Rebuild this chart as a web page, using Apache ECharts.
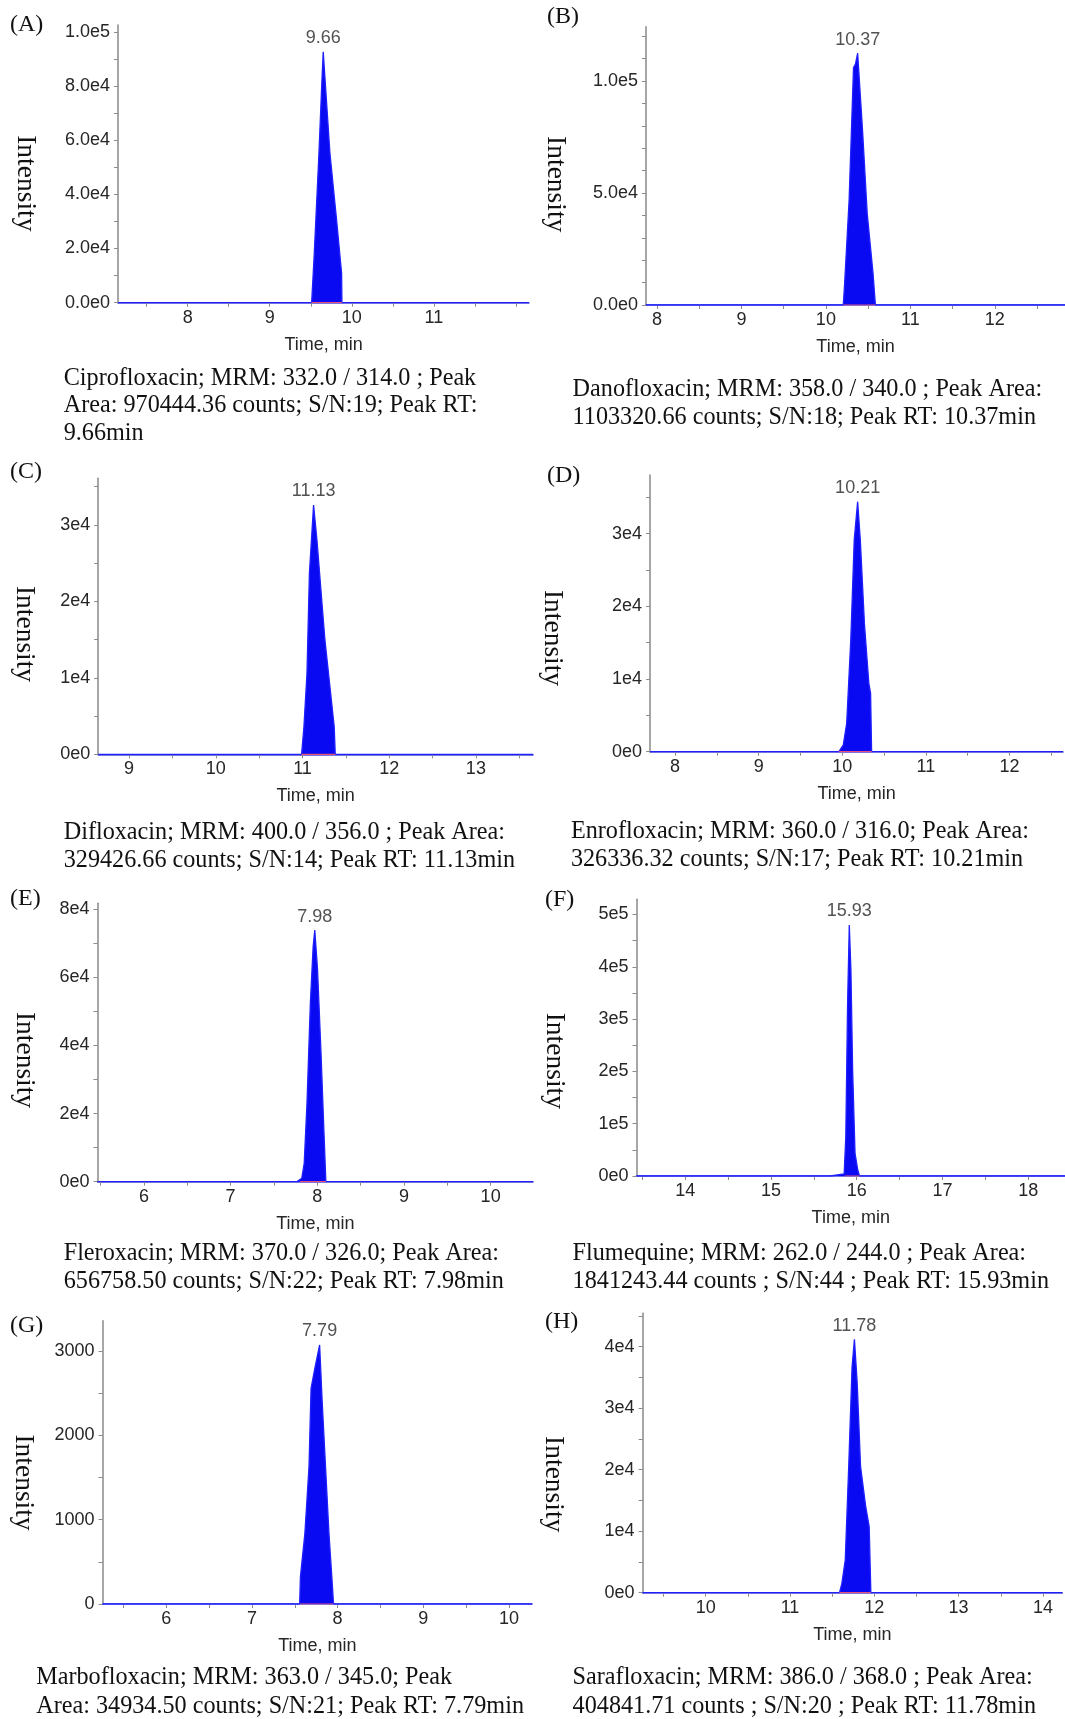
<!DOCTYPE html>
<html><head><meta charset="utf-8">
<script src="https://cdn.jsdelivr.net/npm/echarts@6/dist/echarts.min.js"></script>
<style>html,body{margin:0;padding:0;background:#fff}#c{width:1065px;height:1719px}</style>
</head><body><div id="c"></div>
<script>
// ================= DATA =================
const panelLetters = ['(A)', '(B)', '(C)', '(D)', '(E)', '(F)', '(G)', '(H)'];
const peakRT = ['9.66', '10.37', '11.13', '10.21', '7.98', '15.93', '7.79', '11.78'];

// chromatogram traces: time (min) and intensity (counts)
const timeA = [7.152, 9.511, 9.543, 9.600, 9.633, 9.652, 9.734, 9.815, 9.876, 9.880, 12.16];
const intA  = [0, 0, 18230, 55130, 79700, 92620, 55130, 30520, 10850, 0, 0];
const timeB = [7.871, 10.206, 10.222, 10.275, 10.327, 10.350, 10.376, 10.436, 10.489, 10.558, 10.586, 12.83];
const intB  = [0, 0, 9670, 46900, 106000, 107500, 112400, 76600, 40900, 14100, 0, 0];
const timeC = [8.644, 10.99, 11.017, 11.052, 11.080, 11.128, 11.167, 11.259, 11.366, 11.378, 13.66];
const intC  = [0, 0, 3620, 10590, 23660, 32590, 28000, 14950, 3620, 0, 0];
const timeD = [7.702, 9.96, 10.012, 10.053, 10.102, 10.143, 10.184, 10.216, 10.265, 10.318, 10.339, 10.351, 12.64];
const intD  = [0, 0, 917, 3900, 15360, 29100, 34390, 29100, 17650, 9400, 8020, 0, 0];
const timeE = [5.464, 7.762, 7.821, 7.849, 7.881, 7.920, 7.952, 7.971, 8.003, 8.043, 8.079, 8.099, 10.49];
const intE  = [0, 0, 980, 5380, 23000, 52400, 69000, 73900, 62200, 37700, 13200, 0, 0];
const timeF = [13.43, 15.693, 15.853, 15.872, 15.893, 15.913, 15.932, 15.952, 15.980, 16.012, 16.032, 18.43];
const intF  = [0, 0, 3800, 75200, 330000, 480000, 394000, 202700, 43300, 11470, 0, 0];
const timeG = [5.257, 7.557, 7.566, 7.618, 7.666, 7.690, 7.710, 7.738, 7.790, 7.819, 7.859, 7.899, 7.940, 7.952, 10.27];
const intG  = [0, 0, 324, 837, 1627, 2555, 2567, 2812, 3069, 2417, 1627, 837, 205, 0, 0];
const timeH = [9.251, 11.587, 11.615, 11.655, 11.696, 11.736, 11.764, 11.797, 11.837, 11.898, 11.939, 11.959, 14.23];
const intH  = [0, 0, 1518, 5312, 20490, 36750, 41190, 34040, 20490, 13980, 10730, 0, 0];

// integration baseline (peak start / end, min)
const peakBase = [[9.511, 9.880], [10.206, 10.586], [10.99, 11.378], [9.96, 10.351],
                  [7.80, 8.099], [15.86, 16.032], [7.557, 7.952], [11.587, 11.959]];

// axis extents
const xMin = [7.152, 7.871, 8.644, 7.702, 5.464, 13.43, 5.257, 9.251];
const xMax = [12.16, 12.83, 13.66, 12.64, 10.49, 18.43, 10.27, 14.23];
const yMax = [102500, 124240, 36080, 38060, 81760, 529000, 3357, 45430];

// tick labels
const xTickLabels = [[8, 9, 10, 11], [8, 9, 10, 11, 12], [9, 10, 11, 12, 13], [8, 9, 10, 11, 12],
                     [6, 7, 8, 9, 10], [14, 15, 16, 17, 18], [6, 7, 8, 9, 10], [10, 11, 12, 13, 14]];
const yTickVals = [
  [0, 20000, 40000, 60000, 80000, 100000],
  [0, 50000, 100000],
  [0, 10000, 20000, 30000],
  [0, 10000, 20000, 30000],
  [0, 20000, 40000, 60000, 80000],
  [0, 100000, 200000, 300000, 400000, 500000],
  [0, 1000, 2000, 3000],
  [0, 10000, 20000, 30000, 40000]
];
const yTickLabels = [
  ['0.0e0', '2.0e4', '4.0e4', '6.0e4', '8.0e4', '1.0e5'],
  ['0.0e0', '5.0e4', '1.0e5'],
  ['0e0', '1e4', '2e4', '3e4'],
  ['0e0', '1e4', '2e4', '3e4'],
  ['0e0', '2e4', '4e4', '6e4', '8e4'],
  ['0e0', '1e5', '2e5', '3e5', '4e5', '5e5'],
  ['0', '1000', '2000', '3000'],
  ['0e0', '1e4', '2e4', '3e4', '4e4']
];
const yMinorStep = [10000, 10000, 5000, 5000, 10000, 50000, 500, 5000];
const xMinorStep = 0.5;

const captions = [
  ['Ciprofloxacin; MRM: 332.0 / 314.0 ; Peak', 'Area: 970444.36 counts; S/N:19; Peak RT:', '9.66min'],
  ['Danofloxacin; MRM: 358.0 / 340.0 ; Peak Area:', '1103320.66 counts; S/N:18; Peak RT: 10.37min'],
  ['Difloxacin; MRM: 400.0 / 356.0 ; Peak Area:', '329426.66 counts; S/N:14; Peak RT: 11.13min'],
  ['Enrofloxacin; MRM: 360.0 / 316.0; Peak Area:', '326336.32 counts; S/N:17; Peak RT: 10.21min'],
  ['Fleroxacin; MRM: 370.0 / 326.0; Peak Area:', '656758.50 counts; S/N:22; Peak RT: 7.98min'],
  ['Flumequine; MRM: 262.0 / 244.0 ; Peak Area:', '1841243.44 counts ; S/N:44 ; Peak RT: 15.93min'],
  ['Marbofloxacin; MRM: 363.0 / 345.0; Peak', 'Area: 34934.50 counts; S/N:21; Peak RT: 7.79min'],
  ['Sarafloxacin; MRM: 386.0 / 368.0 ; Peak Area:', '404841.71 counts ; S/N:20 ; Peak RT: 11.78min']
];

// ================= LAYOUT (positions / sizes) =================
const layout = [
  {g: [118.1, 25.0, 410.9, 277.7],  letter: [10, 24.7],   inten: [25, 183.3],    cap: [63.7, [378.5, 406, 433.5]]},
  {g: [646.0, 26.7, 419.0, 278.3],  letter: [547, 17.2],  inten: [555.5, 184.2], cap: [572.6, [390, 417.5]]},
  {g: [98.2, 478.3, 434.9, 276.0],  letter: [10, 472.2],  inten: [24, 634],      cap: [63.7, [832.5, 861]]},
  {g: [650.1, 475.0, 412.9, 276.7], letter: [547, 475.5], inten: [552, 638],     cap: [570.9, [831.5, 860]]},
  {g: [97.5, 903.3, 435.6, 278.4],  letter: [10, 898.8],  inten: [24, 1060],     cap: [63.7, [1253.5, 1282]]},
  {g: [636.5, 899.3, 428.5, 276.7], letter: [545, 899.7], inten: [554.6, 1060.8],cap: [572.6, [1253.5, 1282]]},
  {g: [102.6, 1320.7, 429.5, 283.3],letter: [10, 1325.5], inten: [23, 1482.5],   cap: [36.2, [1678, 1706.5]]},
  {g: [642.6, 1313.3, 419.7, 279.4],letter: [545, 1321.3],inten: [553.7, 1484.2],cap: [572.6, [1678, 1706.5]]}
];

const times = [timeA, timeB, timeC, timeD, timeE, timeF, timeG, timeH];
const ints  = [intA, intB, intC, intD, intE, intF, intG, intH];

const SANS = 'Liberation Sans';
const SERIF = 'Liberation Serif';
const tickTextColor = '#262626';

function stepsIn(lo, hi, step) {
  const out = [];
  const k0 = Math.ceil(lo / step - 1e-9), k1 = Math.floor(hi / step + 1e-9);
  for (let k = k0; k <= k1; k++) out.push(+(k * step).toFixed(6));
  return out;
}

const option = { animation: false, backgroundColor: '#fff', grid: [], xAxis: [], yAxis: [], series: [], graphic: [] };

for (let i = 0; i < 8; i++) {
  const L = layout[i];
  option.grid.push({ left: L.g[0], top: L.g[1], width: L.g[2], height: L.g[3], containLabel: false, outerBoundsMode: 'none' });

  option.xAxis.push({
    type: 'value', gridIndex: i, min: xMin[i], max: xMax[i],
    name: 'Time, min', nameLocation: 'middle', nameGap: 33, nameMoveOverlap: false,
    nameTextStyle: { fontFamily: SANS, fontSize: 18, color: tickTextColor },
    axisLine: { show: true, onZero: false, lineStyle: { color: '#4a4ad6', width: 1.5 } },
    axisTick: { show: true, customValues: stepsIn(xMin[i], xMax[i], xMinorStep), length: 4, lineStyle: { color: '#8a8a8a', width: 1 } },
    axisLabel: { customValues: xTickLabels[i], margin: 6, fontFamily: SANS, fontSize: 18, color: tickTextColor,
                 formatter: v => String(v) },
    splitLine: { show: false }
  });

  const vals = yTickVals[i], labs = yTickLabels[i];
  option.yAxis.push({
    type: 'value', gridIndex: i, min: 0, max: yMax[i],
    axisLine: { show: true, onZero: false, lineStyle: { color: '#8a8a8a', width: 1.5 } },
    axisTick: { show: true, customValues: stepsIn(0, yMax[i], yMinorStep[i]), length: 4, lineStyle: { color: '#8a8a8a', width: 1 } },
    axisLabel: { customValues: vals, margin: 8, fontFamily: SANS, fontSize: 18, color: tickTextColor,
                 formatter: v => { const k = vals.indexOf(v); return k >= 0 ? labs[k] : ''; } },
    splitLine: { show: false }
  });

  const data = times[i].map((t, k) => [t, ints[i][k]]);
  option.series.push({
    type: 'line', xAxisIndex: i, yAxisIndex: i, data: data, symbol: 'none', silent: true, z: 3,
    lineStyle: { color: '#2020ff', width: 1.3 },
    areaStyle: { color: '#0a0af2', opacity: 1 }
  });

  option.series.push({
    type: 'line', xAxisIndex: i, yAxisIndex: i, symbol: 'none', silent: true, z: 4,
    data: [[peakBase[i][0], 0], [peakBase[i][1], 0]],
    lineStyle: { color: '#e8507a', width: 1.2 }
  });

  let km = 0;
  ints[i].forEach((v, k) => { if (v > ints[i][km]) km = k; });
  option.series.push({
    type: 'scatter', xAxisIndex: i, yAxisIndex: i, silent: true, z: 5,
    data: [[times[i][km], ints[i][km]]], symbolSize: 1, itemStyle: { color: 'rgba(0,0,0,0)' },
    label: { show: true, position: 'top', distance: 4, formatter: peakRT[i],
             fontFamily: SANS, fontSize: 18, color: tickTextColor }
  });

  option.graphic.push({
    type: 'text', x: L.letter[0], y: L.letter[1], silent: true,
    style: { text: panelLetters[i], fontFamily: SERIF, fontSize: 24, fill: '#111', align: 'left', verticalAlign: 'middle' }
  });
  option.graphic.push({
    type: 'text', x: L.inten[0], y: L.inten[1], rotation: -Math.PI / 2, silent: true,
    style: { text: 'Intensity', fontFamily: SERIF, fontSize: 27.5, fill: '#111', align: 'center', verticalAlign: 'middle' }
  });
  captions[i].forEach((line, j) => {
    option.graphic.push({
      type: 'text', x: L.cap[0], y: L.cap[1][j], silent: true,
      style: { text: line, fontFamily: SERIF, fontSize: 24.2, fill: '#111', align: 'left', verticalAlign: 'middle' }
    });
  });
}

const chart = echarts.init(document.getElementById('c'), null, { renderer: 'canvas', width: 1065, height: 1719 });
chart.setOption(option);
</script>
</body></html>
